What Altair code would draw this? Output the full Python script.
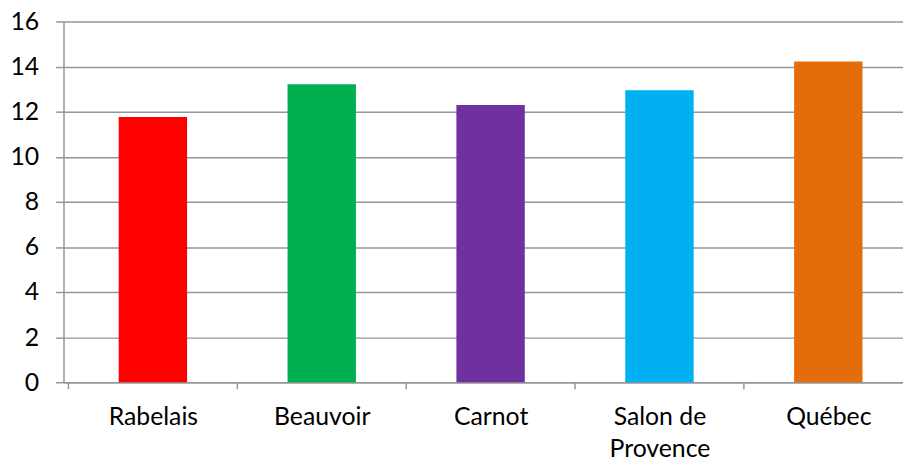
import altair as alt
import pandas as pd

categories = ["Rabelais", "Beauvoir", "Carnot", "Salon de Provence", "Québec"]
values = [11.76, 13.21, 12.29, 12.95, 14.22]
colors = ["#FF0000", "#00B050", "#7030A0", "#00B0F0", "#E46C0A"]
y_ticks = [0, 2, 4, 6, 8, 10, 12, 14, 16]

df = pd.DataFrame({
    "cat": categories,
    "val": values,
    "pos": [i + 0.5 for i in range(len(categories))],
})
bounds = pd.DataFrame({"b": list(range(len(categories) + 1))})

FONT = "Lato"
GRID = "#969696"
W, H = 847, 364
STEP = 172.4
xscale = alt.Scale(domain=[0, W / STEP], nice=False, zero=False)

label_expr = ("['Rabelais','Beauvoir','Carnot',['Salon de','Provence'],'Québec']"
              "[floor(datum.value)]")

bars = alt.Chart(df).mark_bar(size=69).encode(
    x=alt.X(
        "pos:Q",
        scale=xscale,
        axis=alt.Axis(
            title=None,
            values=[p for p in df["pos"]],
            labelExpr=label_expr,
            labelAngle=0,
            labelFontSize=25,
            labelFont=FONT,
            labelColor="#000000",
            labelPadding=23,
            labelLineHeight=32,
            labelFlush=False,
            labelOverlap=False,
            domainColor=GRID,
            domainWidth=1.5,
            ticks=False,
            grid=False,
        ),
    ),
    y=alt.Y(
        "val:Q",
        scale=alt.Scale(domain=[0, 16], nice=False),
        axis=alt.Axis(
            title=None,
            values=y_ticks,
            labelFontSize=25,
            labelFont=FONT,
            labelColor="#000000",
            labelPadding=17,
            domainColor=GRID,
            domainWidth=1.5,
            tickColor=GRID,
            tickWidth=1.5,
            tickSize=8,
            gridColor=GRID,
            gridWidth=1.5,
        ),
    ),
    color=alt.Color("cat:N", sort=categories,
                    scale=alt.Scale(domain=categories, range=colors), legend=None),
)

ticks = alt.Chart(bounds).mark_rule(color=GRID, strokeWidth=1.5).encode(
    x=alt.X("b:Q", scale=xscale),
    y=alt.value(H),
    y2=alt.value(H + 7),
)

chart = alt.layer(bars, ticks).properties(
    width=W,
    height=H,
    autosize=alt.AutoSizeParams(type="none"),
    padding={"left": 56, "top": 11.5, "right": 0, "bottom": 90},
).configure_view(stroke=None)

chart.save("out.html", embed_options={"renderer": "svg", "actions": False})
